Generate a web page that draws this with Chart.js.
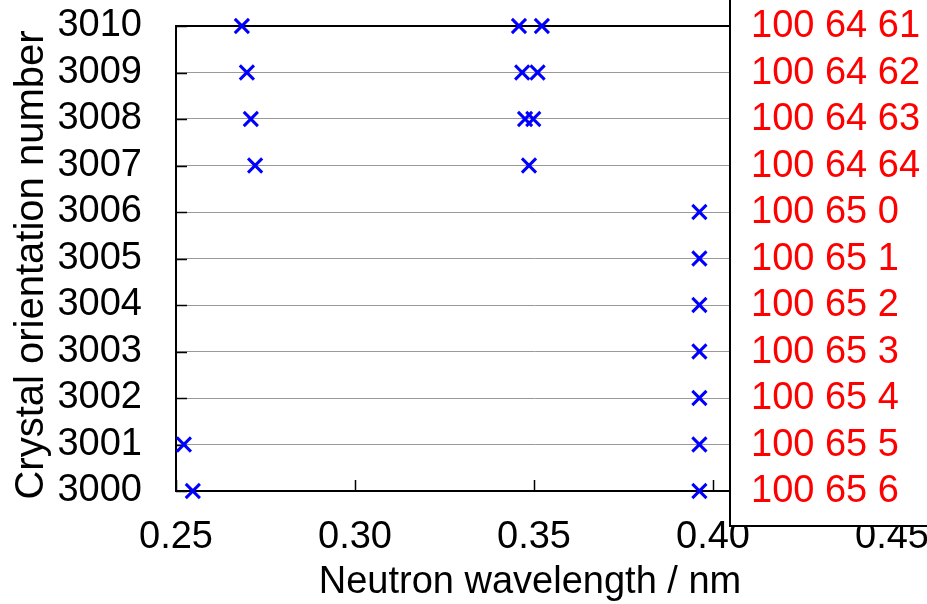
<!DOCTYPE html>
<html>
<head>
<meta charset="utf-8">
<script src="https://cdn.jsdelivr.net/npm/chart.js@4/dist/chart.umd.min.js"></script>
<style>
  html, body { margin: 0; padding: 0; background: #fff; overflow: hidden; }
  #wrap { width: 927px; height: 604px; }
</style>
</head>
<body>
<div id="wrap"><canvas id="chart" width="927" height="604"></canvas></div>
<script>
// номера ориентаций кристалла (ось Y)
const orientations = [3000, 3001, 3002, 3003, 3004, 3005, 3006, 3007, 3008, 3009, 3010];
// подписи справа, по порядку orientations
const orientationNames = [
  "100 65 6", "100 65 5", "100 65 4", "100 65 3", "100 65 2", "100 65 1", "100 65 0",
  "100 64 64", "100 64 63", "100 64 62", "100 64 61"
];
// точки: длина волны (нм) и номер ориентации
const pointWavelength = [
  0.2547, 0.3962,
  0.2522, 0.3962,
  0.3962, 0.3962, 0.3962, 0.3962, 0.3962,
  0.2721, 0.3486,
  0.2709, 0.3475, 0.3498,
  0.2698, 0.3467, 0.3510,
  0.2684, 0.3458, 0.3522
];
const pointOrientation = [
  3000, 3000,
  3001, 3001,
  3002, 3003, 3004, 3005, 3006,
  3007, 3007,
  3008, 3008, 3008,
  3009, 3009, 3009,
  3010, 3010, 3010
];
const xTicks = [0.25, 0.30, 0.35, 0.40, 0.45];

const FONT = '"Liberation Sans", Arial, sans-serif';
const BOX_LEFT = 730;   // левый край белой панели с подписями
const BOX_BOTTOM = 526;

// фиксированный размер оси без автоотступов
const fixSize = (w, h) => s => {
  if (w) s.width = w;
  if (h) s.height = h;
  s.paddingTop = s.paddingBottom = s.paddingLeft = s.paddingRight = 0;
};

// рамка сверху и короткие засечки внутрь
const framePlugin = {
  id: "frame",
  beforeDatasetsDraw(chart) {
    const { ctx, chartArea: a, scales: { x, y } } = chart;
    ctx.save();
    ctx.strokeStyle = "#000";
    ctx.lineWidth = 2;
    ctx.beginPath();
    ctx.moveTo(a.left, a.top);
    ctx.lineTo(BOX_LEFT, a.top);
    ctx.stroke();
    ctx.lineWidth = 1.5;
    orientations.forEach(v => {
      const py = Math.round(y.getPixelForValue(v)) + 0.5;
      ctx.beginPath();
      ctx.moveTo(a.left, py);
      ctx.lineTo(a.left + 11, py);
      ctx.stroke();
    });
    xTicks.forEach(v => {
      const px = Math.round(x.getPixelForValue(v)) + 0.5;
      ctx.beginPath();
      ctx.moveTo(px, a.bottom);
      ctx.lineTo(px, a.bottom - 11);
      ctx.stroke();
    });
    ctx.restore();
  },
  afterDraw(chart) {
    const { ctx, width, scales: { y } } = chart;
    ctx.save();
    // белая панель справа
    ctx.fillStyle = "#fff";
    ctx.fillRect(BOX_LEFT, 0, width - BOX_LEFT, BOX_BOTTOM);
    ctx.strokeStyle = "#000";
    ctx.lineWidth = 2;
    ctx.beginPath();
    ctx.moveTo(BOX_LEFT, 0);
    ctx.lineTo(BOX_LEFT, BOX_BOTTOM);
    ctx.lineTo(width, BOX_BOTTOM);
    ctx.stroke();

    ctx.font = "38px " + FONT;
    ctx.fillStyle = "#ff0000";
    ctx.textAlign = "left";
    ctx.textBaseline = "middle";
    orientations.forEach((v, i) => {
      ctx.fillText(orientationNames[i], 751, y.getPixelForValue(v) + 1);
    });

    // подписи осей
    ctx.fillStyle = "#000";
    ctx.textBaseline = "alphabetic";
    ctx.textAlign = "center";
    ctx.font = "38px " + FONT;
    ctx.fillText("Neutron wavelength / nm", 530, 593);
    ctx.font = "40px " + FONT;
    ctx.translate(43, 265);
    ctx.rotate(-Math.PI / 2);
    ctx.fillText("Crystal orientation number", 0, 0);
    ctx.restore();
  }
};

const points = pointWavelength.map((w, i) => ({ x: w, y: pointOrientation[i] }));

new Chart(document.getElementById("chart"), {
  type: "scatter",
  data: {
    datasets: [{
      data: points,
      pointStyle: "crossRot",
      pointRadius: 10,
      pointHoverRadius: 10,
      borderColor: "#0000ff",
      backgroundColor: "#0000ff",
      borderWidth: 3,
      clip: false
    }]
  },
  options: {
    responsive: false,
    animation: false,
    devicePixelRatio: 1,
    layout: { autoPadding: false, padding: { top: 26, right: 35, left: 0, bottom: 0 } },
    plugins: { legend: { display: false }, tooltip: { enabled: false } },
    scales: {
      x: {
        type: "linear",
        min: 0.25,
        max: 0.45,
        afterFit: fixSize(0, 113),
        afterBuildTicks: s => { s.ticks = xTicks.map(v => ({ value: v })); },
        grid: { display: false, drawTicks: false },
        border: { display: true, color: "#000", width: 2 },
        ticks: {
          autoSkip: false,
          padding: 24,
          color: "#000",
          font: { family: FONT, size: 38 },
          maxRotation: 0,
          callback: v => Number(v).toFixed(2)
        }
      },
      y: {
        type: "linear",
        min: 3000,
        max: 3010,
        afterFit: fixSize(176, 0),
        afterBuildTicks: s => { s.ticks = orientations.map(v => ({ value: v })); },
        grid: { color: "#999", lineWidth: 1, drawTicks: false },
        border: { display: true, color: "#000", width: 2 },
        ticks: {
          autoSkip: false,
          padding: 34,
          color: "#000",
          font: { family: FONT, size: 38 },
          callback: v => String(v)
        }
      }
    }
  },
  plugins: [framePlugin]
});
</script>
</body>
</html>
